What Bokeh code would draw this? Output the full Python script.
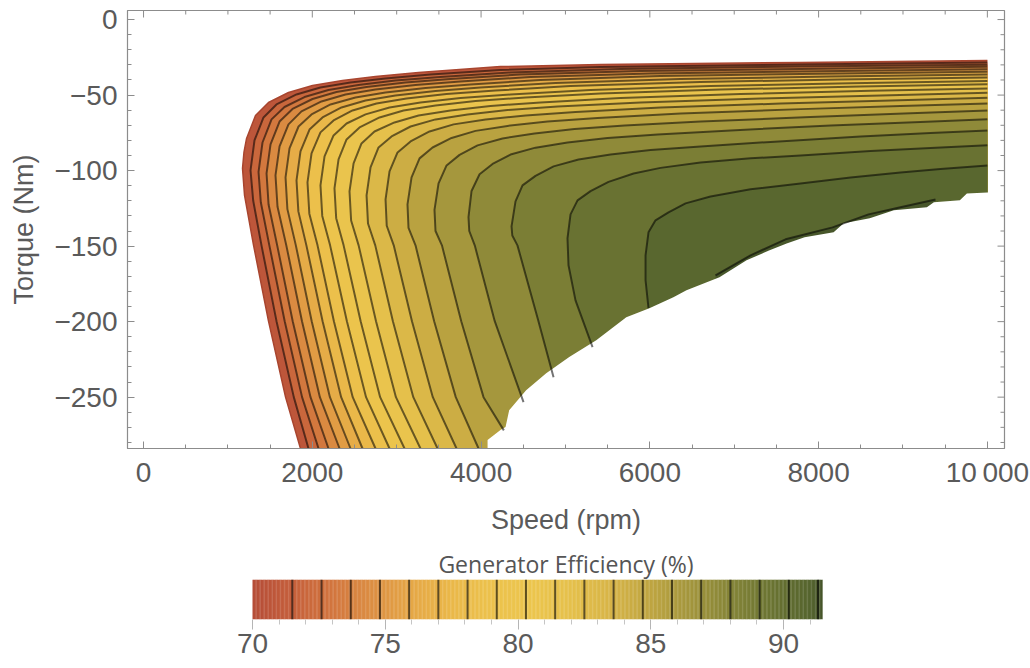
import numpy as np
from bokeh.plotting import figure
from bokeh.models import Range1d, FixedTicker
from bokeh.layouts import column
from bokeh.embed import file_html
from bokeh.resources import INLINE

# ---------------- data ----------------
levels = [70.0, 71.5, 72.6, 73.7, 74.8, 75.9, 77.0, 78.1, 79.2, 80.3,
          81.4, 82.5, 83.6, 84.7, 85.8, 86.9, 88.0, 89.1, 90.2, 91.3]
eff_max = 91.47

spd_700 = [1860, 1683, 1481, 1304, 1197, 1173, 1190, 1221, 1327, 1481, 1718, 2003, 2358, 2749, 3259, 4230, 5415, 7785, 10000]
trq_700 = [-284, -250, -199.7, -149.5, -116.4, -98.5, -88.0, -78.7, -63.5, -54.9, -48.3, -43.7, -40.3, -37.7, -35.1, -31.1, -29.8, -28.4, -27.1]

spd_715 = [1955, 1781, 1576, 1398, 1300, 1268, 1315, 1422, 1576, 1813, 2097, 2453, 2868, 3401, 4230, 5415, 7785, 10000]
trq_715 = [-284, -250, -199.7, -149.5, -120.0, -99.9, -80.0, -64.8, -56.2, -49.6, -45.0, -41.7, -39.0, -36.4, -33.4, -31.4, -29.8, -28.5]

spd_726 = [2074, 1879, 1673, 1491, 1390, 1363, 1410, 1517, 1671, 1908, 2192, 2548, 2986, 3519, 4349, 5652, 7785, 10000]
trq_726 = [-284, -250, -199.7, -149.5, -121.0, -100.9, -81.4, -66.1, -57.9, -51.3, -46.6, -43.3, -40.3, -38.0, -35.1, -32.7, -31.1, -29.9]

spd_737 = [2192, 1979, 1768, 1584, 1482, 1458, 1505, 1612, 1766, 2003, 2287, 2643, 3105, 3638, 4467, 5889, 7785, 10000]
trq_737 = [-284, -250, -199.7, -149.5, -122.5, -101.9, -82.7, -67.5, -59.2, -52.6, -48.0, -44.6, -41.7, -39.4, -36.4, -34.1, -32.7, -31.3]

spd_748 = [2323, 2090, 1878, 1692, 1588, 1564, 1612, 1718, 1872, 2109, 2394, 2749, 3223, 3756, 4586, 6008, 7785, 10000]
trq_748 = [-284, -250, -199.7, -149.5, -124.0, -103.2, -84.0, -69.4, -60.8, -54.2, -49.6, -46.3, -43.3, -41.0, -38.0, -35.7, -34.4, -32.9]

spd_759 = [2453, 2209, 1993, 1805, 1705, 1683, 1730, 1837, 1991, 2216, 2512, 2868, 3342, 3875, 4704, 6126, 8022, 10000]
trq_759 = [-284, -250, -199.7, -149.5, -125.5, -104.5, -85.3, -70.8, -62.8, -56.2, -51.6, -48.3, -45.3, -43.0, -40.0, -37.4, -35.9, -34.5]

spd_770 = [2595, 2342, 2122, 1930, 1835, 1813, 1860, 1967, 2121, 2346, 2631, 2986, 3460, 3993, 4882, 6363, 8141, 10000]
trq_770 = [-284, -250, -199.7, -149.5, -127.0, -106.5, -87.3, -72.8, -64.8, -58.2, -53.6, -50.3, -47.3, -45.0, -42.0, -39.4, -37.7, -36.4]

spd_781 = [2749, 2479, 2256, 2062, 1965, 1943, 1991, 2097, 2252, 2477, 2761, 3117, 3591, 4171, 5060, 6600, 8259, 10000]
trq_781 = [-284, -250, -199.7, -149.5, -128.5, -107.8, -88.6, -74.7, -66.8, -60.2, -55.6, -52.3, -49.3, -47.0, -44.0, -41.3, -39.7, -38.4]

spd_792 = [2915, 2637, 2410, 2211, 2118, 2097, 2145, 2252, 2406, 2631, 2915, 3282, 3756, 4349, 5297, 6719, 8378, 10000]
trq_792 = [-284, -250, -199.7, -149.5, -130.0, -109.8, -90.6, -76.7, -68.8, -62.8, -58.2, -54.9, -51.9, -49.6, -46.6, -44.0, -42.1, -40.6]

spd_803 = [3093, 2804, 2573, 2371, 2283, 2263, 2311, 2406, 2560, 2797, 3081, 3460, 3934, 4527, 5415, 6837, 8496, 10000]
trq_803 = [-284, -250, -199.7, -149.5, -131.5, -111.8, -92.6, -79.4, -71.4, -64.8, -60.2, -56.9, -53.9, -51.6, -48.9, -46.3, -44.4, -42.9]

spd_814 = [3282, 2991, 2755, 2549, 2460, 2441, 2489, 2583, 2737, 2974, 3259, 3638, 4112, 4704, 5652, 7074, 8615, 10000]
trq_814 = [-284, -250, -199.7, -149.5, -133.0, -113.8, -95.2, -82.0, -74.1, -68.1, -63.5, -60.2, -57.2, -54.9, -51.9, -49.3, -47.2, -45.6]

spd_825 = [3484, 3197, 2955, 2746, 2660, 2643, 2690, 2785, 2939, 3164, 3460, 3839, 4313, 4906, 5889, 7311, 8733, 10000]
trq_825 = [-284, -250, -199.7, -149.5, -135.0, -116.4, -97.9, -84.7, -77.4, -70.8, -66.1, -62.8, -59.9, -57.5, -54.9, -52.3, -50.3, -48.5]

spd_836 = [3709, 3428, 3181, 2965, 2882, 2868, 2915, 3010, 3164, 3389, 3674, 4053, 4527, 5119, 6126, 7548, 8852, 10000]
trq_836 = [-284, -250, -199.7, -149.5, -136.5, -119.1, -100.5, -88.0, -80.7, -74.1, -69.4, -66.1, -63.5, -61.2, -58.2, -55.6, -53.6, -51.8]

spd_847 = [3970, 3700, 3444, 3223, 3140, 3128, 3176, 3271, 3425, 3650, 3934, 4313, 4787, 5380, 6363, 7785, 8970, 10000]
trq_847 = [-284, -250, -199.7, -149.5, -138.0, -122.4, -104.5, -91.9, -84.7, -78.4, -73.7, -70.4, -67.5, -65.1, -62.2, -59.3, -57.2, -55.6]

spd_858 = [4270, 4029, 3765, 3536, 3460, 3448, 3496, 3591, 3745, 3958, 4254, 4633, 5107, 5700, 6600, 7904, 9089, 10000]
trq_858 = [-272, -250, -199.7, -149.5, -140.0, -126.0, -108.5, -96.6, -89.6, -83.3, -78.7, -75.4, -72.4, -70.1, -67.5, -64.5, -62.0, -60.2]

spd_869 = [4503, 4162, 3925, 3860, 3851, 3887, 3982, 4136, 4349, 4645, 5024, 5498, 6091, 6956, 8141, 9207, 10000]
trq_869 = [-253.3, -199.7, -149.5, -140.0, -130.8, -113.5, -102.4, -95.6, -89.4, -84.8, -81.4, -78.4, -76.1, -73.4, -70.1, -67.8, -66.0]

spd_880 = [4859, 4680, 4431, 4370, 4361, 4408, 4491, 4645, 4859, 5155, 5534, 6008, 6600, 7430, 8496, 9326, 10000]
trq_880 = [-236.8, -199.7, -149.5, -143.0, -136.9, -120.4, -109.8, -103.5, -97.2, -92.6, -89.3, -86.3, -84.0, -81.0, -77.4, -75.1, -73.4]

spd_891 = [5321, 5119, 5036, 5024, 5060, 5143, 5297, 5510, 5807, 6126, 6600, 7193, 7785, 8615, 9326, 10000]
trq_891 = [-216.9, -185.9, -162.7, -144.8, -129.0, -119.7, -113.6, -107.5, -101.9, -98.2, -94.6, -91.9, -90.0, -87.0, -85.0, -83.3]

spd_902 = [5984, 5949, 5949, 5984, 6067, 6221, 6423, 6719, 7193, 7785, 8378, 8970, 9444, 10000]
trq_902 = [-191.1, -172.6, -156.1, -140.9, -132.9, -127.6, -121.7, -117.1, -112.4, -108.5, -104.5, -101.2, -98.9, -96.6]

spd_913 = [6778, 7193, 7608, 8165, 8591, 8970, 9385]
trq_913 = [-169.3, -156.1, -145.5, -137.6, -129.0, -124.3, -119.1]

# power-limit edge of the map (lower right boundary)
limit_spd = [4077, 4077, 4230, 4290, 4333, 4534, 4772, 5045, 5365, 5721, 5994, 6279, 6434, 6825, 7146,
             7419, 7621, 7834, 8178, 8297, 8606, 8891, 9283, 9366, 9674, 9757, 10000]
limit_trq = [-300, -278.4, -271.8, -269.8, -258.6, -245.4, -234.1, -223.5, -212.3, -197.1, -191.1, -183.9, -179.2,
             -170.6, -159.4, -152.8, -148.2, -144.2, -140.9, -134.9, -131.6, -126.3, -124.3, -121.0, -119.7, -115.1, -114.5]

x_ticks = [0, 2000, 4000, 6000, 8000, 10000]
x_minor = [500, 1000, 1500, 2500, 3000, 3500, 4500, 5000, 5500, 6500, 7000, 7500, 8500, 9000, 9500]
y_ticks = [0, -50, -100, -150, -200, -250]
y_minor = [-10, -20, -30, -40, -60, -70, -80, -90, -110, -120, -130, -140, -160, -170, -180, -190,
           -210, -220, -230, -240, -260, -270, -280]
cb_ticks = [70, 75, 80, 85, 90]
cb_minor = [71, 72, 73, 74, 76, 77, 78, 79, 81, 82, 83, 84, 86, 87, 88, 89, 91]

contours = [
    (spd_700, trq_700), (spd_715, trq_715), (spd_726, trq_726), (spd_737, trq_737),
    (spd_748, trq_748), (spd_759, trq_759), (spd_770, trq_770), (spd_781, trq_781),
    (spd_792, trq_792), (spd_803, trq_803), (spd_814, trq_814), (spd_825, trq_825),
    (spd_836, trq_836), (spd_847, trq_847), (spd_858, trq_858), (spd_869, trq_869),
    (spd_880, trq_880), (spd_891, trq_891), (spd_902, trq_902), (spd_913, trq_913),
]

# ---------------- colour scale (style) ----------------
pal_vals = [70, 71.5, 73, 74.5, 76, 77.5, 79, 80.5, 82, 83.5, 85, 86.5, 88, 89.5, 91, 91.47]
pal_cols = ["#b54d38", "#c55f3b", "#d2753e", "#dc8e42", "#e5a746", "#eab849", "#ecc24c", "#ecc54d",
            "#e5c04b", "#d7b447", "#bea541", "#a2953c", "#848437", "#6b7432", "#55642e", "#45542a"]
_rgb = np.array([[int(c[i:i + 2], 16) for i in (1, 3, 5)] for c in pal_cols], float)


def color_at(v):
    r, g, b = (np.interp(v, pal_vals, _rgb[:, k]) for k in range(3))
    return "#%02x%02x%02x" % (int(round(r)), int(round(g)), int(round(b)))


GREY = "#8c8c8c"
TXT = "#5a5a5a"
FONT = "Liberation Sans"
X0, X1 = -190, 10203
Y0, Y1 = -284, 6
FRAME_W, FRAME_H = 877, 438
RPM_PX = (X1 - X0) / FRAME_W
NM_PX = (Y1 - Y0) / FRAME_H

# ---------------- main map ----------------
p = figure(width=1030, height=540, x_range=Range1d(X0, X1), y_range=Range1d(Y0, Y1),
           output_backend="svg", toolbar_location=None,
           min_border_left=127, min_border_right=26, min_border_top=10, min_border_bottom=92)
p.grid.visible = False
p.outline_line_color = GREY
p.outline_line_width = 1.2
p.background_fill_color = "white"

band_tops = levels[1:] + [eff_max]
xs, ys, cols = [], [], []
for i, (s, t) in enumerate(contours):
    xs.append(list(s) + [s[-1], s[0]])
    ys.append(list(t) + [-300, -300])
    cols.append(color_at(0.5 * (levels[i] + band_tops[i])))
p.patches(xs, ys, fill_color=cols, line_color=None)

# white area beyond the power limit (reaches a little past 10000 rpm to hide seams)
p.patch(limit_spd + [limit_spd[-1] + 60, limit_spd[-1] + 60],
        limit_trq + [limit_trq[-1], -300], fill_color="white", line_color=None)

# outer (70 %) edge
p.line(spd_700, trq_700, line_color="#a8452f", line_width=1.5)
# contour lines
p.multi_line([list(s) for s, t in contours[1:]], [list(t) for s, t in contours[1:]],
             line_color="black", line_alpha=0.55, line_width=2, line_join="round")

# frame ticks on the top and right edges (no labels)
p.segment(x0=x_ticks, y0=Y1, x1=x_ticks, y1=Y1 - 7 * NM_PX, line_color=GREY, line_width=1)
p.segment(x0=x_minor, y0=Y1, x1=x_minor, y1=Y1 - 4 * NM_PX, line_color=GREY, line_width=1)
p.segment(x0=X1, y0=y_ticks, x1=X1 - 7 * RPM_PX, y1=y_ticks, line_color=GREY, line_width=1)
p.segment(x0=X1, y0=y_minor, x1=X1 - 4 * RPM_PX, y1=y_minor, line_color=GREY, line_width=1)

for ax in (p.xaxis[0], p.yaxis[0]):
    ax.axis_line_color = GREY
    ax.major_tick_line_color = GREY
    ax.minor_tick_line_color = GREY
    ax.major_tick_in = 7
    ax.major_tick_out = 0
    ax.minor_tick_in = 4
    ax.minor_tick_out = 0
    ax.major_label_text_font = FONT
    ax.major_label_text_font_size = "28px"
    ax.major_label_text_color = TXT
    ax.axis_label_text_font = FONT
    ax.axis_label_text_font_size = "27px"
    ax.axis_label_text_font_style = "normal"
    ax.axis_label_text_color = TXT

p.xaxis.ticker = FixedTicker(ticks=x_ticks, minor_ticks=x_minor)
p.yaxis.ticker = FixedTicker(ticks=y_ticks, minor_ticks=y_minor)
p.xaxis.major_label_overrides = {v: ("10\u2009000" if v == 10000 else str(v)) for v in x_ticks}
p.yaxis.major_label_overrides = {v: ("0" if v == 0 else "\u2212" + str(-v)) for v in y_ticks}
p.xaxis.axis_label = "Speed (rpm)"
p.yaxis.axis_label = "Torque (Nm)"
p.xaxis.major_label_standoff = 8
p.yaxis.major_label_standoff = 10
p.xaxis.axis_label_standoff = 14
p.yaxis.axis_label_standoff = 12

# ---------------- colour bar (same frame borders as the map) ----------------
CB_PX = 26.55  # px per % on the bar
cb = figure(width=1030, height=128,
            x_range=Range1d(70 - (252 - 127) / CB_PX, 70 + (1004 - 252) / CB_PX), y_range=Range1d(0, 1),
            output_backend="svg", toolbar_location=None,
            min_border_left=127, min_border_right=26, min_border_top=39, min_border_bottom=49,
            title="Generator Efficiency (%)")
cb.grid.visible = False
cb.outline_line_color = None
cb.yaxis.visible = False
cb.title.align = "center"
cb.title.text_font = "Open Sans"
cb.title.text_font_size = "23px"
cb.title.text_font_style = "normal"
cb.title.text_color = "#555555"
cb.title.standoff = 0

step = 0.05
lefts = np.arange(70, eff_max, step)
rights = np.minimum(lefts + step + 0.01, eff_max)
cb.quad(left=lefts, right=rights, bottom=0, top=1,
        fill_color=[color_at(v + step / 2) for v in lefts], line_color=None)
cb.segment(x0=levels[1:], y0=0, x1=levels[1:], y1=1, line_color="black", line_alpha=0.6, line_width=2)

cax = cb.xaxis[0]
cax.ticker = FixedTicker(ticks=cb_ticks, minor_ticks=cb_minor)
cax.axis_line_color = None
cax.major_tick_line_color = "#b5b5b5"
cax.minor_tick_line_color = "#c5c5c5"
cax.major_tick_in = 0
cax.major_tick_out = 10
cax.minor_tick_in = 0
cax.minor_tick_out = 5
cax.major_label_text_font = FONT
cax.major_label_text_font_size = "28px"
cax.major_label_text_color = TXT
cax.major_label_standoff = 4
cax.major_label_overrides = {v: str(v) for v in cb_ticks}

layout = column(p, cb, spacing=0)
open("out.html", "w").write(file_html(layout, INLINE))
